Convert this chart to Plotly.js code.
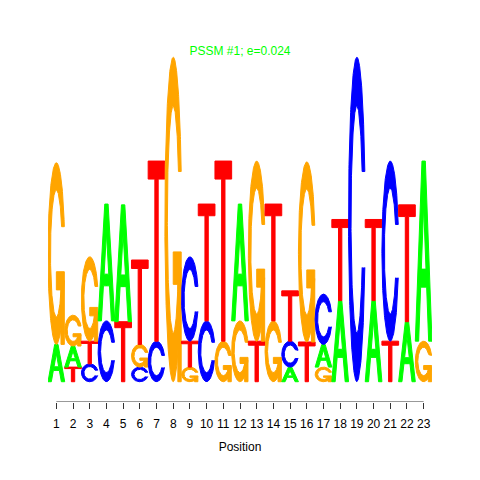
<!DOCTYPE html>
<html>
<head>
<meta charset="utf-8">
<script src="https://cdn.plot.ly/plotly-3.0.1.min.js"></script>
<style>
html,body{margin:0;padding:0;background:#ffffff;}
#chart{width:480px;height:480px;}
</style>
</head>
<body>
<div id="chart"></div>
<script>
// ---- data (letter heights in bits) ----
const positions  = [1,2,3,4,5,6,7,8,9,10,11,12,13,14,15,16,17,18,19,20,21,22,23];
const tickLabels = ['1','2','3','4','5','6','7','8','9','10','11','12','13','14','15','16','17','18','19','20','21','22','23'];
const heightA = [0.23,0.13,0,   0.72,0.72,0,   0,   0,   0,   0,   0,   0.72,0,   0,   0.09,0,    0.14,0.50,0,   0.50,0,   0.37,1.11];
const heightC = [0,   0,   0.11,0.375,0,  0.09,0.25,0,   0.52,0.375,0,  0,   0,   0,   0.16,0,    0.31,0,   2.00,0,   1.11,0,   0   ];
const heightG = [1.12,0.19,0.52,0,   0,   0.14,0,   2.00,0.09,0,   0.25,0.375,1.11,0.375,0,  1.11, 0.09,0,   0,   0,   0,   0,   0.25];
const heightT = [0,   0.09,0.14,0,   0.37,0.52,1.11,0,   0.16,0.72,1.11,0,   0.25,0.72,0.31,0.245,0,   0.50,0,   0.50,0.25,0.72,0   ];
const letterNames = ['A','C','G','T'];
const letterColors = {A:'#00FF00', C:'#0000FF', G:'#FFA500', T:'#FF0000'};
const titleText = 'PSSM #1; e=0.024';
const xTitle = 'Position';

// ---- glyph outlines in a unit box ----
function seq(a, b, n){ const r=[]; for(let i=0;i<n;i++) r.push(a+(b-a)*i/(n-1)); return r; }
function ringC(){
  const a1 = seq(0.3+Math.PI/2, Math.PI, 60), a2 = seq(Math.PI, 1.5*Math.PI, 60);
  const xl = a1.map(a=>0.5+0.5*Math.sin(a)).concat(a2.map(a=>0.5+0.5*Math.sin(a)));
  const yl = a1.map(a=>0.5+0.5*Math.cos(a)).concat(a2.map(a=>0.5+0.5*Math.cos(a)));
  const maxY = 0.5+0.5*Math.cos(a1[0]);
  const ox = xl.concat(xl.slice().reverse());
  const oy = yl.concat(yl.slice().reverse().map(v=>1-v));
  let xi1 = [], yi1 = [];
  a1.forEach(a=>{ const y=0.5+0.35*Math.cos(a); if(y<=maxY){ xi1.push(0.5+0.35*Math.sin(a)); yi1.push(y);} });
  yi1[0] = maxY;
  const xi = xi1.concat(a2.map(a=>0.5+0.35*Math.sin(a)));
  const yi = yi1.concat(a2.map(a=>0.5+0.35*Math.cos(a)));
  const ix = xi.concat(xi.slice().reverse());
  const iy = yi.concat(yi.slice().reverse().map(v=>1-v));
  const px = ox.concat(ix.slice().reverse()), py = oy.concat(iy.slice().reverse());
  return {px, py, r1: Math.max(...xl.slice(0,a1.length))};
}
function glyph(letter){
  if(letter==='A'){
    return [{px:[0,0.4,0.6,1,0.8,0.68,0.5,0.5,0.64,0.5,0.36,0.5,0.5,0.32,0.2,0],
             py:[0,1,1,0,0,0.3,0.3,0.4,0.4,0.75,0.4,0.4,0.3,0.3,0,0]}];
  }
  if(letter==='T'){
    return [{px:[0,1,1,0.6,0.6,0.4,0.4,0,0], py:[1,1,0.9,0.9,0,0,0.9,0.9,1]}];
  }
  const ring = ringC();
  if(letter==='C') return [{px:ring.px, py:ring.py}];
  const r1 = ring.r1, h1 = 0.4;
  return [{px:ring.px, py:ring.py},
          {px:[r1,0.5,0.5,r1-0.2,r1-0.2,r1,r1], py:[h1,h1,h1-0.1,h1-0.1,0,0,h1]}];
}

// ---- build stacked letter traces ----
const heights = {A:heightA, C:heightC, G:heightG, T:heightT};
const traces = [];
positions.forEach((pos, i)=>{
  const col = letterNames.map(l=>({l, h:heights[l][i]})).filter(d=>d.h>0);
  col.sort((a,b)=>a.h-b.h);
  let base = 0;
  col.forEach(d=>{
    glyph(d.l).forEach(poly=>{
      traces.push({
        type:'scatter', mode:'lines', fill:'toself',
        x: poly.px.map(u=>pos-0.5+u),
        y: poly.py.map(v=>base+v*d.h),
        fillcolor: letterColors[d.l],
        line:{color: letterColors[d.l], width:1},
        hoverinfo:'skip', showlegend:false
      });
    });
    base += d.h;
  });
});
// axis line from first to last position (R-style)
const yMin = -0.125;
traces.push({type:'scatter', mode:'lines', x:[positions[0], positions[positions.length-1]], y:[yMin, yMin],
  line:{color:'#333', width:1}, cliponaxis:false, hoverinfo:'skip', showlegend:false});

const layout = {
  width:480, height:480,
  margin:{l:48, r:48, t:41, b:78, pad:0},
  paper_bgcolor:'#ffffff', plot_bgcolor:'#ffffff',
  showlegend:false,
  font:{family:'Liberation Sans, Arial, sans-serif', size:12, color:'#000'},
  title:{text:titleText, font:{family:'Liberation Sans, Arial, sans-serif', size:12, color:'#00FF00'},
         x:0.5, xanchor:'center', y:1-51/480, yanchor:'middle', yref:'container'},
  xaxis:{range:[0.5, 23.5], tickmode:'array', tickvals:positions, ticktext:tickLabels,
         ticks:'outside', ticklen:6, tickwidth:1, tickcolor:'#333', ticklabelstandoff:5,
         showline:false, showgrid:false, zeroline:false, fixedrange:true, automargin:false,
         tickfont:{family:'Liberation Sans, Arial, sans-serif', size:12, color:'#000'},
         title:{text:xTitle, font:{family:'Liberation Sans, Arial, sans-serif', size:12, color:'#000'}, standoff:12}},
  yaxis:{range:[yMin, 2.1], visible:false, fixedrange:true, showgrid:false, zeroline:false}
};
Plotly.newPlot('chart', traces, layout, {staticPlot:true, displayModeBar:false});
</script>
</body>
</html>
